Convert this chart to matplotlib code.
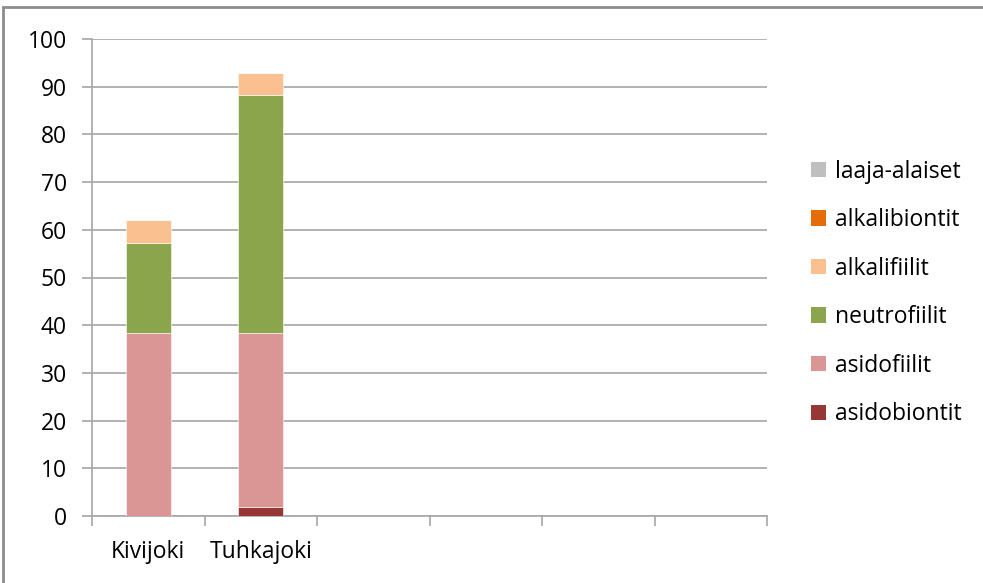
import numpy as np
import matplotlib.pyplot as plt
from matplotlib.patches import Rectangle, Patch

plt.rcParams['font.family'] = ['Open Sans', 'DejaVu Sans']

# rivers (six category slots, only two in use)
categories = ["Kivijoki", "Tuhkajoki", "", "", "", ""]

# share of species per pH group, stacked bottom to top
series_names = ["asidobiontit", "asidofiilit", "neutrofiilit",
                "alkalifiilit", "alkalibiontit", "laaja-alaiset"]
asidobiontit = [0.0, 1.9, 0, 0, 0, 0]
asidofiilit = [38.3, 36.4, 0, 0, 0, 0]
neutrofiilit = [19.0, 50.0, 0, 0, 0, 0]
alkalifiilit = [4.7, 4.5, 0, 0, 0, 0]
alkalibiontit = [0, 0, 0, 0, 0, 0]
laaja_alaiset = [0, 0, 0, 0, 0, 0]

colors = ["#953735", "#D99694", "#8AA54B", "#FAC090", "#E46C0A", "#BFBFBF"]

values = [asidobiontit, asidofiilit, neutrofiilit, alkalifiilit,
          alkalibiontit, laaja_alaiset]

FS = 16.5

fig = plt.figure(figsize=(9.83, 5.83), dpi=100)
ax = fig.add_axes([92 / 983, 67 / 583, 675 / 983, 477 / 583])

x = np.arange(len(categories))
bottom = np.zeros(len(categories))
for name, vals, col in zip(series_names, values, colors):
    vals = np.array(vals, dtype=float)
    ax.bar(x, vals, width=0.4, bottom=bottom, color=col,
           edgecolor="white", linewidth=0.4, label=name, zorder=3)
    bottom += vals

ax.set_xlim(-0.5, len(categories) - 0.5)
ax.set_ylim(0, 100)
ax.set_yticks(np.arange(0, 101, 10))
ax.yaxis.grid(True, color="#A6A6A6", linewidth=1.2, zorder=0)

# category boundary ticks on the x axis, labels centred in slots
ax.set_xticks(np.arange(len(categories) + 1) - 0.5)
ax.set_xticklabels([])
ax.set_xticks(x, minor=True)
ax.set_xticklabels(categories, minor=True, fontsize=FS)
ax.tick_params(axis="x", which="minor", length=0, pad=17)
ax.tick_params(axis="x", which="major", length=7, color="#A6A6A6", width=1.2)
ax.tick_params(axis="y", length=7, color="#A6A6A6", width=1.2,
               labelsize=FS, pad=11)

for side in ("top", "right"):
    ax.spines[side].set_visible(False)
for side in ("left", "bottom"):
    ax.spines[side].set_color("#A6A6A6")
    ax.spines[side].set_linewidth(1.2)

handles = [Patch(facecolor=c, label=n) for n, c in zip(series_names, colors)][::-1]
fig.legend(handles=handles, loc="upper left",
           bbox_to_anchor=(790 / 983, 1 - 139 / 583), frameon=False,
           fontsize=FS, handlelength=0.65, handleheight=0.65,
           handletextpad=0.4, labelspacing=1.07)

# outer chart frame
fig.patches.append(Rectangle((3 / 983, -0.05), 1.2, 1.05 - 7 / 583,
                             transform=fig.transFigure, fill=False,
                             edgecolor="#8C8C8C", linewidth=2))

fig.savefig("out.png", dpi=100, facecolor="white")
